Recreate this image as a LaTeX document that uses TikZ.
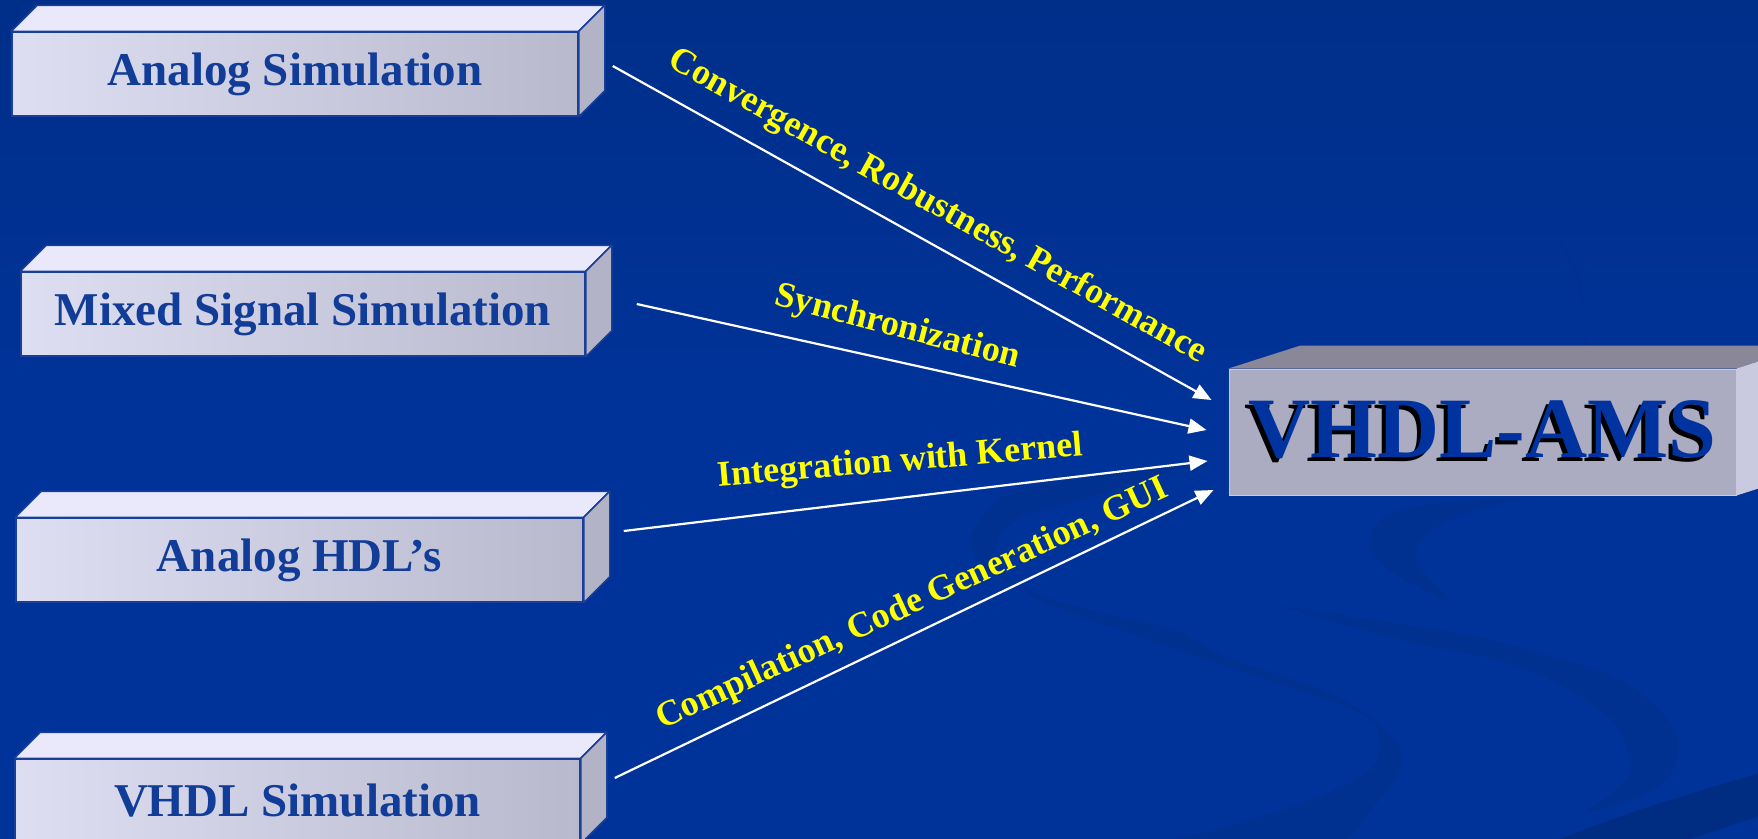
\documentclass[tikz,border=0pt]{standalone}
\usepackage{fontspec}
\setmainfont{Liberation Serif}
\usetikzlibrary{calc,arrows.meta}
\definecolor{bgmain}{HTML}{003399}
\definecolor{bgtop}{HTML}{002F8A}
\definecolor{swirl}{HTML}{003090}
\definecolor{swirldark}{HTML}{002C82}
\definecolor{faceL}{HTML}{DEDEF2}
\definecolor{faceR}{HTML}{B9B9CD}
\definecolor{facetop}{HTML}{E9E9FB}
\definecolor{faceside}{HTML}{B3B3C8}
\definecolor{boxedge}{HTML}{1A3F99}
\definecolor{boxtext}{HTML}{113C98}
\definecolor{amsfront}{HTML}{ABABC1}
\definecolor{amstop}{HTML}{8A8898}
\definecolor{amsside}{HTML}{C9C9E0}
\definecolor{amstext}{HTML}{0033A0}
\definecolor{labyellow}{HTML}{FFFF00}
\tikzset{
  frontbox/.style={draw=boxedge, line width=1.5pt, left color=faceL, right color=faceR,
    minimum height=84pt, inner sep=0pt, text=boxtext,
    font=\bfseries\fontsize{47}{47}\selectfont},
  topface/.style={fill=facetop, draw=boxedge, line width=1.5pt, line join=round},
  sideface/.style={fill=faceside, draw=boxedge, line width=1.5pt, line join=round},
  conn/.style={draw=white, line width=2.2pt, -{Triangle[length=18pt,width=15pt]}},
  lab/.style={sloped, inner sep=0pt, text=labyellow, font=\bfseries\fontsize{36}{36}\selectfont},
  amsfont/.style={inner sep=0pt, font=\bfseries\fontsize{86}{86}\selectfont}
}
\newcommand{\shadowtext}[1]{\rlap{\kern-4pt\raisebox{-4pt}{\textcolor{black}{#1}}}\textcolor{amstext}{#1}}
\begin{document}
\begin{tikzpicture}[x=1pt,y=-1pt]
\useasboundingbox (0,0) rectangle (1758,838);
\clip (0,0) rectangle (1758,838);
% background
\shade[top color=bgtop, bottom color=bgmain, middle color=bgmain] (0,0) rectangle (1758,838);
% decorative swirls
\draw[swirl, line width=3pt] (1560,243) .. controls (1580,270) and (1585,300) .. (1585,346);
\fill[swirl] plot[smooth cycle, tension=0.6] coordinates {(1528,498) (1440,503) (1387,515) (1370,542) (1392,572) (1448,600) (1420,567) (1418,545) (1440,525) (1490,506)};
\fill[swirl] plot[smooth cycle, tension=0.6] coordinates {(1289,607) (1400,624) (1478,637) (1604,673) (1662,713) (1679,752) (1654,790) (1587,812) (1616,790) (1631,763) (1604,713) (1520,667) (1400,640) (1300,612)};
\fill[swirl] plot[smooth cycle, tension=0.6] coordinates {(1206,460) (1092,477) (1009,493) (977,525) (971,546) (993,574) (1064,603) (1174,630) (1226,657) (1331,693) (1385,730) (1402,763) (1373,807) (1320,850) (1150,850) (1226,827) (1310,800) (1369,770) (1379,740) (1360,713) (1268,680) (1150,640) (1040,600) (1000,565) (998,540) (1020,518) (1064,505) (1150,478)};
\fill[swirldark] plot[smooth, tension=0.6] coordinates {(1530,850) (1645,808) (1770,770)} -- (1770,812) -- plot[smooth, tension=0.6] coordinates {(1770,812) (1687,840) (1650,850)} -- cycle;
% source boxes
\node[frontbox, minimum width=566pt] (b1) at (295,74) {Analog Simulation};
\node[frontbox, minimum width=564pt] (b2) at (303,314) {Mixed Signal Simulation};
\node[frontbox, minimum width=567pt] (b3) at (299.5,560) {Analog HDL’s};
\node[frontbox, minimum width=565pt] (b4) at (297.5,801) {VHDL Simulation};
\foreach \b in {b1,b2,b3,b4}{
  \draw[topface] (\b.north west) -- ++(26,-26) -- ($(\b.north east)+(26,-26)$) -- (\b.north east) -- cycle;
  \draw[sideface] (\b.north east) -- ++(26,-26) -- ($(\b.south east)+(26,-26)$) -- (\b.south east) -- cycle;
}
% target box
\node[fill=amsfront, draw=amsside, line width=1pt, minimum width=507pt, minimum height=126pt, inner sep=0pt] (ams) at (1482.5,432) {};
\fill[amstop] (ams.north west) -- ++(72,-23) -- ($(ams.north east)+(72,-23)$) -- (ams.north east) -- cycle;
\fill[amsside] (ams.north east) -- ++(72,-23) -- ($(ams.south east)+(72,-23)$) -- (ams.south east) -- cycle;
\node[amsfont] (amslabel) at (ams.center) {\shadowtext{VHDL-AMS}};
% connectors
\draw[conn] ($(b1.east)+(34,-8)$) -- node[lab, pos=0.513, yshift=35pt] (l1) {Convergence, Robustness, Performance} ($(ams.west)+(-17,-32)$);
\draw[conn] ($(b2.east)+(51,-10)$) -- node[lab, pos=0.445, yshift=33pt, rotate=-2] (l2) {Synchronization} ($(ams.west)+(-22,-2)$);
\draw[conn] ($(b3.east)+(40,-29)$) -- node[lab, pos=0.481, yshift=35pt, rotate=-2] (l3) {Integration with Kernel} ($(ams.west)+(-21,29)$);
\draw[conn] ($(b4.east)+(34,-23)$) -- node[lab, pos=0.517, yshift=27pt, rotate=-1] (l4) {Compilation, Code Generation, GUI} ($(ams.west)+(-15,58)$);
\end{tikzpicture}
\end{document}
